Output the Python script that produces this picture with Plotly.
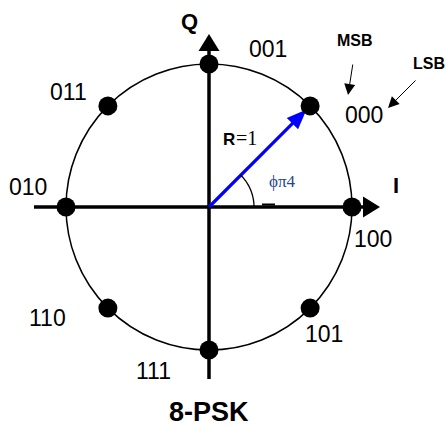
import numpy as np
import plotly.graph_objects as go

# ---------------- data ----------------
angles_deg = [0, 45, 90, 135, 180, 225, 270, 315]
symbol_labels = ["100", "000", "001", "011", "010", "110", "111", "101"]
radius = 1.0
vector_angle_deg = 45
vector_name = "R"
vector_value = "=1"
angle_text = "ϕπ4"
axis_names = ["I", "Q"]
bit_names = ["MSB", "LSB"]
title_text = "8-PSK"

# ---------------- layout constants ----------------
W, H = 446, 428
PX = 143.0           # pixels per unit
CX, CY = 209, 207    # centre in pixels
xr = [-CX / PX, (W - CX) / PX]
yr = [-(H - CY) / PX, CY / PX]


def p2d(px, py):
    return (px - CX) / PX, (CY - py) / PX


def tri(tip, ang_deg, length, half):
    a = np.deg2rad(ang_deg)
    d = np.array([np.cos(a), np.sin(a)])
    n = np.array([-d[1], d[0]])
    t = np.array(tip)
    b = t - d * length
    p1 = b + n * half
    p2 = b - n * half
    return f"M{t[0]},{t[1]} L{p1[0]},{p1[1]} L{p2[0]},{p2[1]} Z"


FONT = "Liberation Sans, Arial, sans-serif"
SERIF = "Liberation Serif, Times New Roman, serif"

label_offsets = {  # pixel offsets of each label from its dot
    "100": (21, -32), "000": (54, -9), "001": (59, 15), "011": (-39, 14),
    "010": (-38, 20), "110": (-60, -10), "111": (-56, -21), "101": (14, -26),
}

ang = np.deg2rad(angles_deg)
xs = radius * np.cos(ang)
ys = radius * np.sin(ang)

fig = go.Figure()
fig.add_trace(go.Scatter(x=xs, y=ys, mode="markers",
                         marker=dict(size=19, color="black"),
                         hoverinfo="skip", showlegend=False))

shapes = []
# circle
shapes.append(dict(type="circle", xref="x", yref="y", x0=-radius, y0=-radius,
                   x1=radius, y1=radius, line=dict(color="black", width=1.5),
                   layer="below"))
# axes
ax_left = p2d(34, 0)[0]
ax_right_tip = p2d(380, 0)[0]
ax_bottom = p2d(0, 379)[1]
ax_top_tip = p2d(0, 34)[1]
head_len = 17 / PX
head_half = 10.5 / PX
shapes.append(dict(type="line", xref="x", yref="y", x0=ax_left, y0=0,
                   x1=ax_right_tip - head_len * 0.8, y1=0,
                   line=dict(color="black", width=3.5), layer="below"))
shapes.append(dict(type="line", xref="x", yref="y", x0=0, y0=ax_bottom,
                   x1=0, y1=ax_top_tip - head_len * 0.8,
                   line=dict(color="black", width=3.5), layer="below"))
shapes.append(dict(type="path", xref="x", yref="y",
                   path=tri((ax_right_tip, 0), 0, head_len, head_half),
                   fillcolor="black", line=dict(width=0)))
shapes.append(dict(type="path", xref="x", yref="y",
                   path=tri((0, ax_top_tip), 90, head_len, head_half),
                   fillcolor="black", line=dict(width=0), layer="below"))

# blue vector
va = np.deg2rad(vector_angle_deg)
tip_r = 0.965 * radius
tip = (tip_r * np.cos(va), tip_r * np.sin(va))
blen = 20 / PX
bhalf = 8 / PX
base_r = tip_r - blen * 0.9
shapes.append(dict(type="line", xref="x", yref="y", x0=0, y0=0,
                   x1=base_r * np.cos(va), y1=base_r * np.sin(va),
                   line=dict(color="#0000ff", width=3.2), layer="below"))
shapes.append(dict(type="path", xref="x", yref="y",
                   path=tri(tip, vector_angle_deg, blen, bhalf),
                   fillcolor="#0000ff", line=dict(width=0), layer="below"))

# angle arc
arc_r = 45 / PX
t = np.linspace(0, va, 30)
arc = "M" + " L".join(f"{arc_r*np.cos(a)},{arc_r*np.sin(a)}" for a in t)
shapes.append(dict(type="path", xref="x", yref="y", path=arc,
                   line=dict(color="black", width=1.3)))
# small dash
d0 = p2d(262, 204.5)
d1 = p2d(275, 204.5)
shapes.append(dict(type="line", xref="x", yref="y", x0=d0[0], y0=d0[1],
                   x1=d1[0], y1=d1[1], line=dict(color="black", width=2)))

annotations = []
for x, y, lab in zip(xs, ys, symbol_labels):
    dx, dy = label_offsets[lab]
    annotations.append(dict(x=x, y=y, xref="x", yref="y", text=lab,
                            showarrow=False, xshift=dx, yshift=dy,
                            xanchor="center", yanchor="middle",
                            font=dict(family=FONT, size=23, color="black")))


def txt(px, py, text, size, bold=False, family=FONT, color="black",
        xanchor="center"):
    x, y = p2d(px, py)
    annotations.append(dict(x=x, y=y, xref="x", yref="y",
                            text=f"<b>{text}</b>" if bold else text,
                            showarrow=False, xanchor=xanchor, yanchor="middle",
                            font=dict(family=family, size=size, color=color)))


txt(396, 185, axis_names[0], 22, bold=True)
txt(189, 21, axis_names[1], 22, bold=True)
txt(355, 40, bit_names[0], 16, bold=True)
txt(429, 63, bit_names[1], 16, bold=True)
txt(236.5, 139, vector_name, 17, bold=True, xanchor="right")
txt(234, 138, vector_value, 20, family=SERIF, xanchor="left")
txt(282, 181, angle_text, 17, family=SERIF, color="#23478a")
txt(209, 412, title_text, 27, bold=True)


def arrow(tip_px, tail_px):
    x, y = p2d(*tip_px)
    annotations.append(dict(x=x, y=y, xref="x", yref="y", text="",
                            showarrow=True, ax=tail_px[0] - tip_px[0],
                            ay=tail_px[1] - tip_px[1], arrowhead=2,
                            arrowsize=2.2, arrowwidth=1, arrowcolor="black",
                            standoff=0, startstandoff=0))


arrow((348, 95), (353, 63))
arrow((388, 108), (417, 79))

fig.update_layout(
    width=W, height=H, margin=dict(l=0, r=0, t=0, b=0),
    paper_bgcolor="white", plot_bgcolor="white",
    xaxis=dict(range=xr, visible=False, fixedrange=True),
    yaxis=dict(range=yr, visible=False, fixedrange=True),
    shapes=shapes, annotations=annotations, showlegend=False,
)
fig.write_html("out.html", config={"displayModeBar": False},
               post_script="document.body.style.margin='0';"
                           "document.body.style.padding='0';"
                           "document.body.style.overflow='hidden';")
